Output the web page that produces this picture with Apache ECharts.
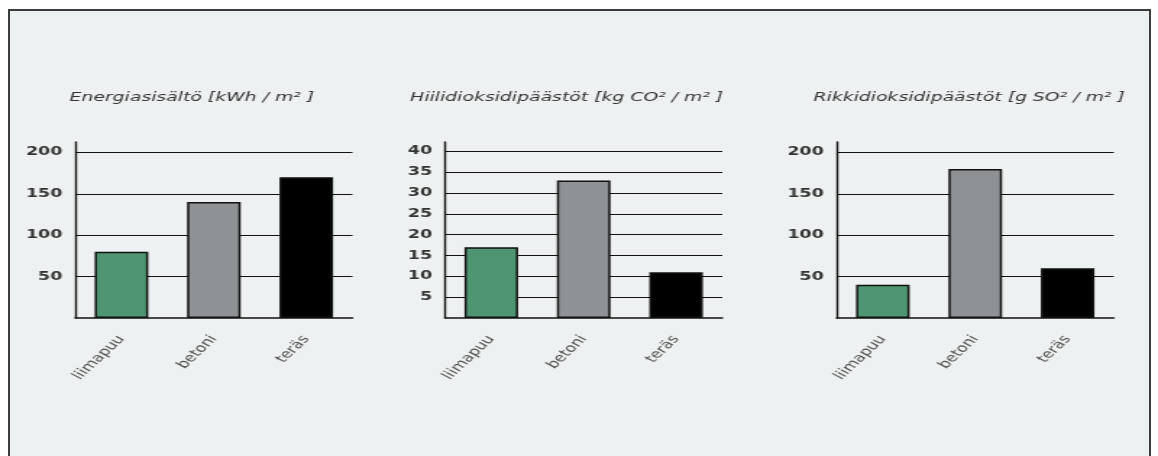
<!DOCTYPE html>
<html>
<head>
<meta charset="utf-8">
<script src="https://cdn.jsdelivr.net/npm/echarts@6/dist/echarts.min.js"></script>
<style>
  html, body { margin: 0; padding: 0; background: #ffffff; overflow: hidden; }
  #frame {
    position: absolute; left: 8px; top: 9px; width: 1139px; height: 470px;
    border: 2px solid #3c3c3c; background: #eef1f1;
  }
  /* the chart is laid out on a narrower canvas and widened, giving the wide lettering */
  #chart {
    position: absolute; left: 0; top: 0; width: 800px; height: 456px;
    transform: scaleX(1.4475); transform-origin: 0 0;
  }
</style>
</head>
<body>
<div id="frame"></div>
<div id="chart"></div>
<script>
// Building materials compared per square metre
const categories = ['liimapuu', 'betoni', 'teräs'];
const barColors = ['#4f9473', '#8e9294', '#000000'];

const titles = [
  'Energiasisältö [kWh / m² ]',
  'Hiilidioksidipäästöt [kg CO² / m² ]',
  'Rikkidioksidipäästöt [g SO² / m² ]'
];

const energyValues = [80, 140, 170];
const co2Values = [17, 33, 11];
const so2Values = [40, 180, 60];

const yTicksEnergy = [50, 100, 150, 200];
const yTicksCo2 = [5, 10, 15, 20, 25, 30, 35, 40];
const yTicksSo2 = [50, 100, 150, 200];

// layout in the narrow (unstretched) coordinate space
const panels = [
  { values: energyValues, ticks: yTicksEnergy, left: 52, titleX: 127.5 },
  { values: co2Values, ticks: yTicksCo2, left: 307.5, titleX: 386.5 },
  { values: so2Values, ticks: yTicksSo2, left: 578, titleX: 664.5 }
];

const FONT = 'DejaVu Sans';
const chart = echarts.init(document.getElementById('chart'), null, { renderer: 'canvas' });

const option = {
  backgroundColor: 'transparent',
  animation: false,
  title: panels.map((p, i) => ({
    text: titles[i],
    left: p.titleX,
    top: 86,
    textAlign: 'center',
    textStyle: { fontFamily: FONT, fontStyle: 'italic', fontWeight: 'normal', fontSize: 13, color: '#333333' }
  })),
  grid: panels.map(p => ({ left: p.left, top: 142, width: 191.5, height: 176 })),
  xAxis: panels.map((p, i) => ({
    type: 'category',
    gridIndex: i,
    data: categories,
    axisLine: { lineStyle: { color: '#111111', width: 1.5 } },
    axisTick: { show: false },
    axisLabel: {
      rotate: 53, interval: 0, margin: 19,
      fontFamily: FONT, fontSize: 12, color: '#505050'
    }
  })),
  yAxis: panels.map((p, i) => {
    const step = p.ticks[1] - p.ticks[0];
    const top = p.ticks[p.ticks.length - 1];
    return {
      type: 'value',
      gridIndex: i,
      min: 0,
      max: top + step * (top === 40 ? 0.45 : 0.25),
      interval: step,
      axisLine: { show: true, lineStyle: { color: '#111111', width: 1.4 } },
      axisTick: { show: false },
      splitLine: { show: true, showMinLine: false, showMaxLine: false, lineStyle: { color: '#111111', width: 1.2 } },
      axisLabel: {
        showMinLabel: false, showMaxLabel: false, margin: 9,
        fontFamily: FONT, fontSize: 12, fontWeight: 'bold', color: '#333333'
      }
    };
  }),
  series: panels.map((p, i) => ({
    type: 'bar',
    xAxisIndex: i,
    yAxisIndex: i,
    barWidth: 37,
    data: p.values.map((v, j) => ({
      value: v,
      itemStyle: { color: barColors[j], borderColor: '#111111', borderWidth: 1.5 }
    }))
  }))
};

chart.setOption(option);
</script>
</body>
</html>
